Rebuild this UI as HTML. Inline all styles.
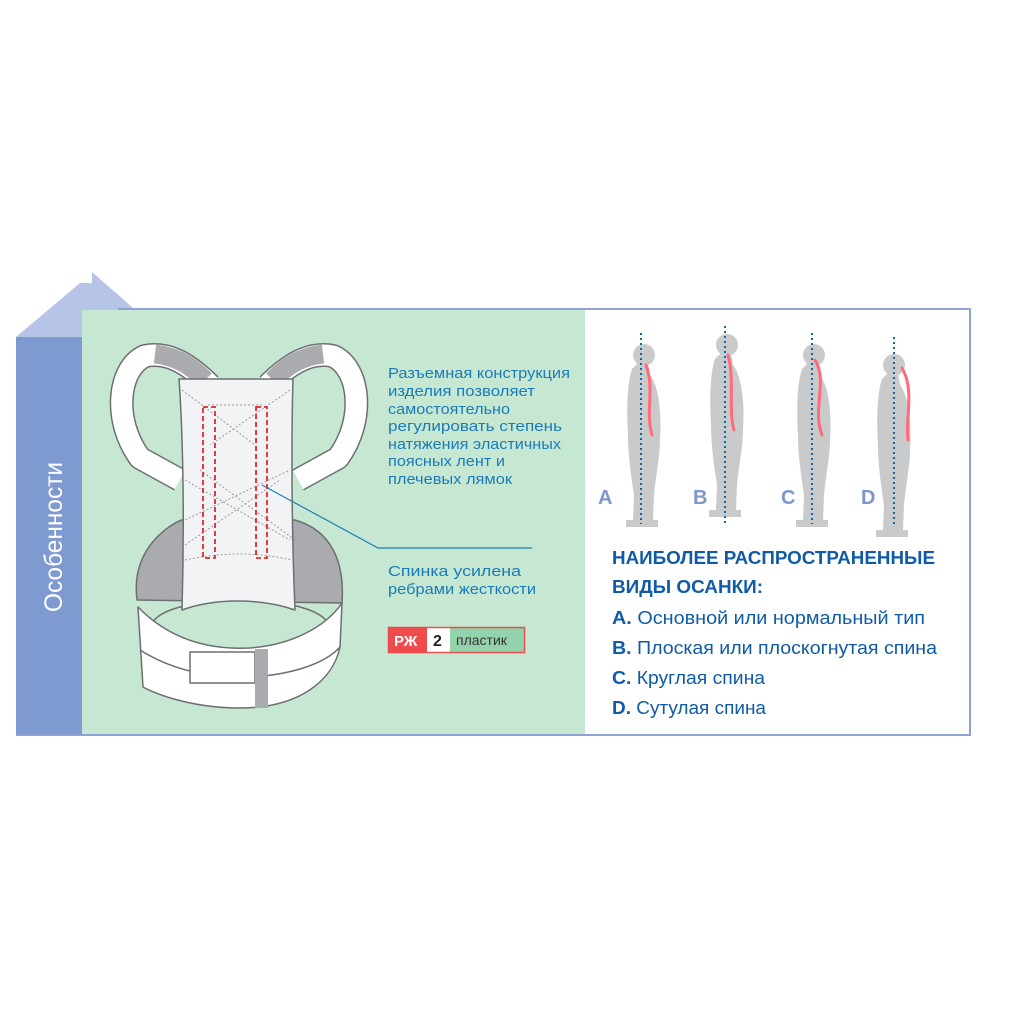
<!DOCTYPE html>
<html><head><meta charset="utf-8"><style>
html,body{margin:0;padding:0;background:#fff}
svg{display:block}
text{font-family:"Liberation Sans",sans-serif}
</style></head><body>
<svg width="1024" height="1024" viewBox="0 0 1024 1024" xmlns="http://www.w3.org/2000/svg">
<defs>
<g id="f" fill="#c9cacc"><circle cx="0" cy="0" r="11"/><path d="M-6 8 L4 8 L6 20 C 14 30, 18 55, 16 85 C 16 100, 12 120, 10 140 L9 165 H-11 L-10 140 C -13 120, -16 100, -16 80 C -18 50, -16 25, -12 14 Z"/><path d="M-18 165 H14 V172 H-18 Z"/></g>
</defs>
<rect width="1024" height="1024" fill="#fff"/>
<polygon points="16,337 80,283 92,283 92,272 133,308 92,345 82,345 82,337" fill="#b6c4e7"/>
<rect x="82" y="310" width="503" height="425" fill="#c6e8d3"/>
<rect x="16" y="337" width="66" height="398" fill="#7f9ad1"/>
<path d="M118 309 H970 V735 H16" fill="none" stroke="#8ea3d6" stroke-width="2"/>
<text transform="translate(62,612) rotate(-90)" font-size="25" fill="#fff" textLength="150" lengthAdjust="spacingAndGlyphs">Особенности</text>

<g stroke="#6d6e71" stroke-linejoin="round">
<path d="M137 600 C 130 545, 175 522, 182 520 L 295 520 C 330 530, 345 560, 342 603 Z" fill="#a9abae" stroke-width="1.5"/>
<path d="M210 385 C 185 360, 165 352, 145 356 C 118 368, 112 420, 140 458 L 180 480" fill="none" stroke="#6d6e71" stroke-width="24"/>
<path d="M210 385 C 185 360, 165 352, 145 356 C 118 368, 112 420, 140 458 L 180 480" fill="none" stroke="#fff" stroke-width="21"/>
<path d="M205 380 C 188 362, 172 356, 155 354" fill="none" stroke="#a9abae" stroke-width="19"/>
<path d="M268 385 C 293 360, 313 352, 333 356 C 360 368, 366 420, 338 458 L 298 480" fill="none" stroke="#6d6e71" stroke-width="24"/>
<path d="M268 385 C 293 360, 313 352, 333 356 C 360 368, 366 420, 338 458 L 298 480" fill="none" stroke="#fff" stroke-width="21"/>
<path d="M273 380 C 290 362, 306 356, 323 354" fill="none" stroke="#a9abae" stroke-width="19"/>
<ellipse cx="240" cy="626" rx="88" ry="26" fill="#c6e8d3" stroke-width="1.5"/>
<path d="M179 379 H293 C 291 450, 292 540, 295 610 C 260 598, 215 598, 182 610 C 184 540, 184 450, 179 379 Z" fill="#f2f3f4" stroke-width="1.5"/>
<path d="M138 607 C 170 640, 210 650, 250 648 C 290 645, 325 628, 342 603 L 340 647 C 333 680, 300 708, 240 708 C 185 708, 148 690, 143 687 Z" fill="#fff" stroke-width="1.5"/>
<path d="M140 650 C 175 672, 215 678, 250 677 C 290 675, 325 664, 340 647" fill="none" stroke-width="1.5"/>
<rect x="190" y="652" width="65" height="31" fill="#fff" stroke-width="1.5"/>
<rect x="255" y="649" width="13" height="59" fill="#a9abae" stroke="none"/>
</g>
<g fill="none" stroke="#9a9b9e" stroke-width="1" stroke-dasharray="2,2">
<path d="M182 390 L255 445 M290 390 L210 445 M200 470 L295 540 M185 520 L290 470 M185 480 L290 540 M185 545 L280 480 M185 560 Q240 548 292 560 M208 405 H262"/>
</g>
<g fill="none" stroke="#e0282e" stroke-width="1.8" stroke-dasharray="5,3">
<rect x="203" y="407" width="12" height="151"/>
<rect x="256" y="407" width="11" height="151"/>
</g>
<path d="M262 485 L378 548 H532" fill="none" stroke="#1b7fb6" stroke-width="1.2"/>

<g fill="#1a7bb8" font-size="15">
<text x="388" y="378" textLength="182" lengthAdjust="spacingAndGlyphs">Разъемная конструкция</text>
<text x="388" y="396" textLength="147" lengthAdjust="spacingAndGlyphs">изделия позволяет</text>
<text x="388" y="414" textLength="122" lengthAdjust="spacingAndGlyphs">самостоятельно</text>
<text x="388" y="431" textLength="174" lengthAdjust="spacingAndGlyphs">регулировать степень</text>
<text x="388" y="449" textLength="173" lengthAdjust="spacingAndGlyphs">натяжения эластичных</text>
<text x="388" y="466" textLength="117" lengthAdjust="spacingAndGlyphs">поясных лент и</text>
<text x="388" y="484" textLength="124" lengthAdjust="spacingAndGlyphs">плечевых лямок</text>
<text x="388" y="576" textLength="133" lengthAdjust="spacingAndGlyphs">Спинка усилена</text>
<text x="388" y="594" textLength="148" lengthAdjust="spacingAndGlyphs">ребрами жесткости</text>
</g>
<rect x="388" y="627" width="39" height="26" fill="#ef4b4c"/>
<rect x="427" y="627" width="23" height="26" fill="#fff"/>
<rect x="450" y="627" width="75" height="26" fill="#93d3ab"/>
<rect x="388.5" y="627.5" width="136" height="25" fill="none" stroke="#ef4b4c" stroke-width="1.5"/>
<text x="394" y="646" font-size="15" font-weight="bold" fill="#fff">РЖ</text>
<text x="433" y="646" font-size="16" font-weight="bold" fill="#222">2</text>
<text x="456" y="645" font-size="14" fill="#333">пластик</text>

<use href="#f" x="644" y="355"/>
<use href="#f" x="727" y="345"/>
<use href="#f" x="814" y="355"/>
<use href="#f" x="894" y="365"/>
<g stroke="#ff6b78" stroke-width="3" fill="none" stroke-linecap="round">
<path d="M646 365 C 655 390, 645 410, 652 435"/>
<path d="M728 355 C 735 380, 728 410, 734 430"/>
<path d="M815 360 C 828 380, 812 410, 822 435"/>
<path d="M902 368 C 915 390, 905 420, 908 440"/>
</g>
<g stroke="#1268a6" stroke-width="2" stroke-dasharray="2,3">
<path d="M641 333 V524 M725 326 V524 M812 333 V524 M894 337 V526"/>
</g>
<g fill="#7d96cd" font-size="20" font-weight="bold">
<text x="598" y="504">A</text><text x="693" y="504">B</text><text x="781" y="504">C</text><text x="861" y="504">D</text>
</g>
<g fill="#0f5ba6">
<text x="612" y="564" font-size="18" font-weight="bold" textLength="323" lengthAdjust="spacingAndGlyphs">НАИБОЛЕЕ РАСПРОСТРАНЕННЫЕ</text>
<text x="612" y="593" font-size="18" font-weight="bold" textLength="151" lengthAdjust="spacingAndGlyphs">ВИДЫ ОСАНКИ:</text>
<g font-size="18">
<text x="612" y="624" textLength="313" lengthAdjust="spacingAndGlyphs"><tspan font-weight="bold">A.</tspan> Основной или нормальный тип</text>
<text x="612" y="654" textLength="325" lengthAdjust="spacingAndGlyphs"><tspan font-weight="bold">B.</tspan> Плоская или плоскогнутая спина</text>
<text x="612" y="684" textLength="153" lengthAdjust="spacingAndGlyphs"><tspan font-weight="bold">C.</tspan> Круглая спина</text>
<text x="612" y="714" textLength="154" lengthAdjust="spacingAndGlyphs"><tspan font-weight="bold">D.</tspan> Сутулая спина</text>
</g></g>
</svg>
</body></html>
